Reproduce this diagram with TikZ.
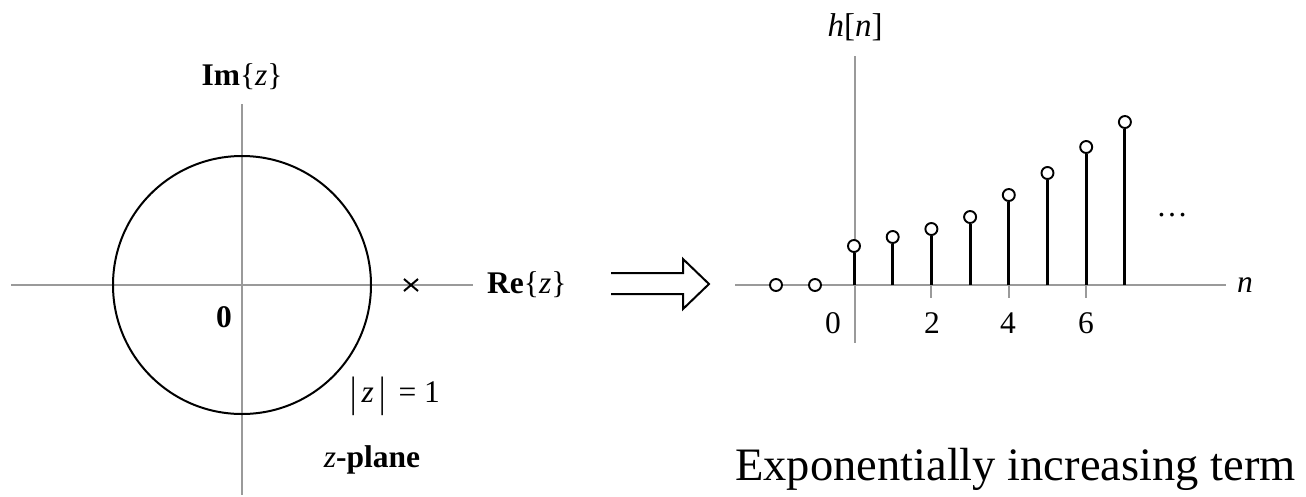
\documentclass[tikz,border=0pt]{standalone}
\usepackage{fontspec}
\setmainfont{Liberation Serif}
\definecolor{axisgray}{HTML}{9A9A9A}
\newcommand{\tallbar}{\raisebox{-0.12em}{\scalebox{1}[1.35]{|}}}
\begin{document}
\begin{tikzpicture}[x=1pt,y=-1pt,
  axis/.style={draw=axisgray,line width=2pt},
  stem/.style={line width=3pt},
  samp/.style={circle,draw,fill=white,line width=1.9pt,minimum size=12pt,inner sep=0pt},
  lbl/.style={font=\fontsize{31.5}{37}\selectfont,inner sep=0pt},
  biglbl/.style={font=\fontsize{46.5}{52}\selectfont,inner sep=0pt},
]
\useasboundingbox (0,0) rectangle (1306,496);
% ---------- left: z-plane ----------
\coordinate (LO) at (242,285);
\coordinate (Lxl) at (11,285);
\coordinate (Lxr) at (473,285);
\coordinate (Lyt) at (242,104);
\coordinate (Lyb) at (242,495);
\draw[axis] (Lxl) -- (Lxr);
\draw[axis] (Lyt) -- (Lyb);
\draw[line width=2pt] (LO) circle[radius=129];
\coordinate (pole) at (411,285);
\draw[line width=2pt] (pole) ++(-7,-6) -- ++(14,12);
\draw[line width=2pt] (pole) ++(-7,6) -- ++(14,-12);
\node[lbl] (im) at (242,77) {\textbf{Im}\{\textit{z}\}};
\node[lbl,anchor=west] (re) at (487,285) {\textbf{Re}\{\textit{z}\}};
\node[lbl] (zero) at (224,317) {\textbf{0}};
\node[lbl] (abs) at (395,396) {\tallbar\,\textit{z}\,\tallbar\ \,= 1};
\node[lbl] (zp) at (372,460) {\textit{z}\textbf{-plane}};
% ---------- arrow ----------
\draw[line width=2pt,line join=miter] (611,273) -- (683,273) -- (683,259) -- (709,284) -- (683,309) -- (683,294) -- (611,294);
% ---------- right: h[n] ----------
\coordinate (RO) at (855,285);
\coordinate (Rxl) at (735,285);
\coordinate (Rxr) at (1226,285);
\coordinate (Ryt) at (855,56);
\coordinate (Ryb) at (855,343);
\draw[axis] (Rxl) -- (Rxr);
\draw[axis] (Ryt) -- (Ryb);
\foreach \k in {2,4,6}{
  \coordinate (tk\k) at ({854+38.7*\k},285);
  \draw[axis] (tk\k) -- ++(0,13);
}
\foreach \k/\h in {0/39,1/48,2/56,3/68,4/90,5/112,6/138,7/163}{
  \coordinate (b\k) at ({854+38.7*\k},285);
  \node[samp] (s\k) at ({854+38.7*\k},{285-\h}) {};
  \draw[stem] (b\k) -- (s\k.south);
}
\node[samp] (sm1) at (815,285) {};
\node[samp] (sm2) at (776,285) {};
\node[lbl] (t0) at (833,323) {0};
\node[lbl] (t2) at (932,323) {2};
\node[lbl] (t4) at (1008,323) {4};
\node[lbl] (t6) at (1086,323) {6};
\node[lbl,anchor=base] (dots) at (1172,216) {\dots};
\node[lbl] (nl) at (1245,285) {\textit{n}};
\node[lbl,font=\fontsize{33}{38}\selectfont] (hn) at (855,27) {\textit{h}[\textit{n}]};
\node[biglbl,anchor=west] (cap) at (735,469) {Exponentially increasing term};
\end{tikzpicture}
\end{document}
